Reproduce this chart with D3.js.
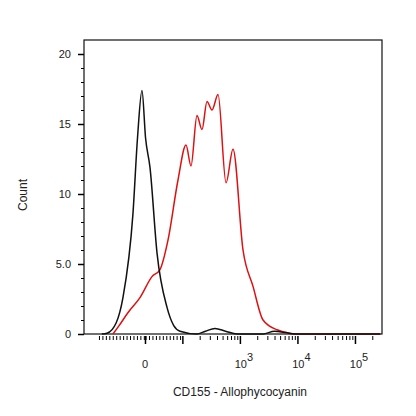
<!DOCTYPE html><html><head><script src="https://cdn.jsdelivr.net/npm/d3@7"></script>
<style>body{margin:0;background:#fff}text{font-family:Arial,"Liberation Sans",sans-serif;fill:#222}</style></head><body><svg id="c" width="416" height="416"></svg><script>
const blackU=[0.6,0.689,0.85,0.967,1.141,1.22,1.298,1.36,1.437,1.559,1.733,1.85,1.959,2.25,2.4,2.567,2.75,2.95,3.4,3.6,3.8,3.95,5.44];
const blackC=[0,0.05,0.8,2.6,8.6,14,17.4,14,11.9,5.8,1.9,0.6,0.2,0,0.2,0.4,0.2,0,0,0.2,0.1,0,0];
const redU=[0.793,0.9,1.05,1.263,1.472,1.611,1.75,1.924,2.063,2.15,2.254,2.341,2.428,2.515,2.62,2.759,2.88,3.054,3.228,3.402,3.646,3.993,5.44];
const redC=[0,0.6,1.5,2.6,4.1,4.6,6.7,11,13.5,12.0,15.6,14.6,16.6,16.0,17.1,10.8,13.2,6,3.4,1.0,0.3,0,0];
const yTicks=[0,5,10,15,20], yLabels=["0","5.0","10","15","20"];
const xMajor=[1.35,3,4,5], xLabels=["0","3","4","5"];
const svg=d3.select("#c");
const x=d3.scaleLinear().domain([0.29,5.47]).range([84,382]);
const y=d3.scaleLinear().domain([0,20]).range([334,54]);
svg.append("rect").attr("x",84).attr("y",40).attr("width",298).attr("height",294).attr("fill","none").attr("stroke","#111").attr("stroke-width",1.2);
const yAx=svg.append("g").attr("transform","translate(84,0)").call(d3.axisLeft(y).tickValues(yTicks).tickFormat((d,i)=>yLabels[i]).tickSize(6));
yAx.selectAll("line").attr("stroke-width",1.5);
svg.append("g").attr("transform","translate(84,0)").call(d3.axisLeft(y).tickValues(d3.range(0,21,1)).tickFormat("").tickSize(3));
svg.selectAll(".domain").remove();
yAx.selectAll("text").attr("font-size",11).attr("dx",-4).style("fill","#222");
let minor=[];
for(let i=0.55;i<1.35;i+=0.06)minor.push(i);
for(let i=1.36;i<2;i+=0.06)minor.push(i);
for(let d=2;d<5.4;d++)for(let k=2;k<10;k++){const u=d+Math.log10(k);if(u<5.47)minor.push(u);}
svg.append("g").attr("transform","translate(0,336)").call(d3.axisBottom(x).tickValues(minor).tickFormat("").tickSize(4)).select(".domain").remove();
const xg=svg.append("g").attr("transform","translate(0,336)").call(d3.axisBottom(x).tickValues([1.35,2,3,4,5]).tickFormat("").tickSize(8));
xg.select(".domain").remove(); xg.selectAll("line").attr("stroke-width",1.5);
xMajor.forEach((u,i)=>{
 const t=svg.append("text").attr("x",x(u)+(i?4:0)).attr("y",368).attr("text-anchor","middle").attr("font-size",11);
 if(i===0)t.text("0"); else {t.append("tspan").text("10");t.append("tspan").attr("dy",-7).attr("font-size",11).text(xLabels[i]);}
});
const line=d3.line().x(d=>x(d[0])).y(d=>y(d[1])).curve(d3.curveMonotoneX);
svg.append("path").datum(redU.map((u,i)=>[u,redC[i]])).attr("d",line).attr("fill","none").attr("stroke","#e01010").attr("stroke-width",1.5);
svg.append("path").datum(blackU.map((u,i)=>[u,blackC[i]])).attr("d",line).attr("fill","none").attr("stroke","#111").attr("stroke-width",1.5);
svg.append("text").attr("transform","translate(27,195) rotate(-90)").attr("text-anchor","middle").attr("font-size",12).text("Count");
svg.append("text").attr("x",240).attr("y",396).attr("text-anchor","middle").attr("font-size",12).text("CD155 - Allophycocyanin");
</script></body></html>
